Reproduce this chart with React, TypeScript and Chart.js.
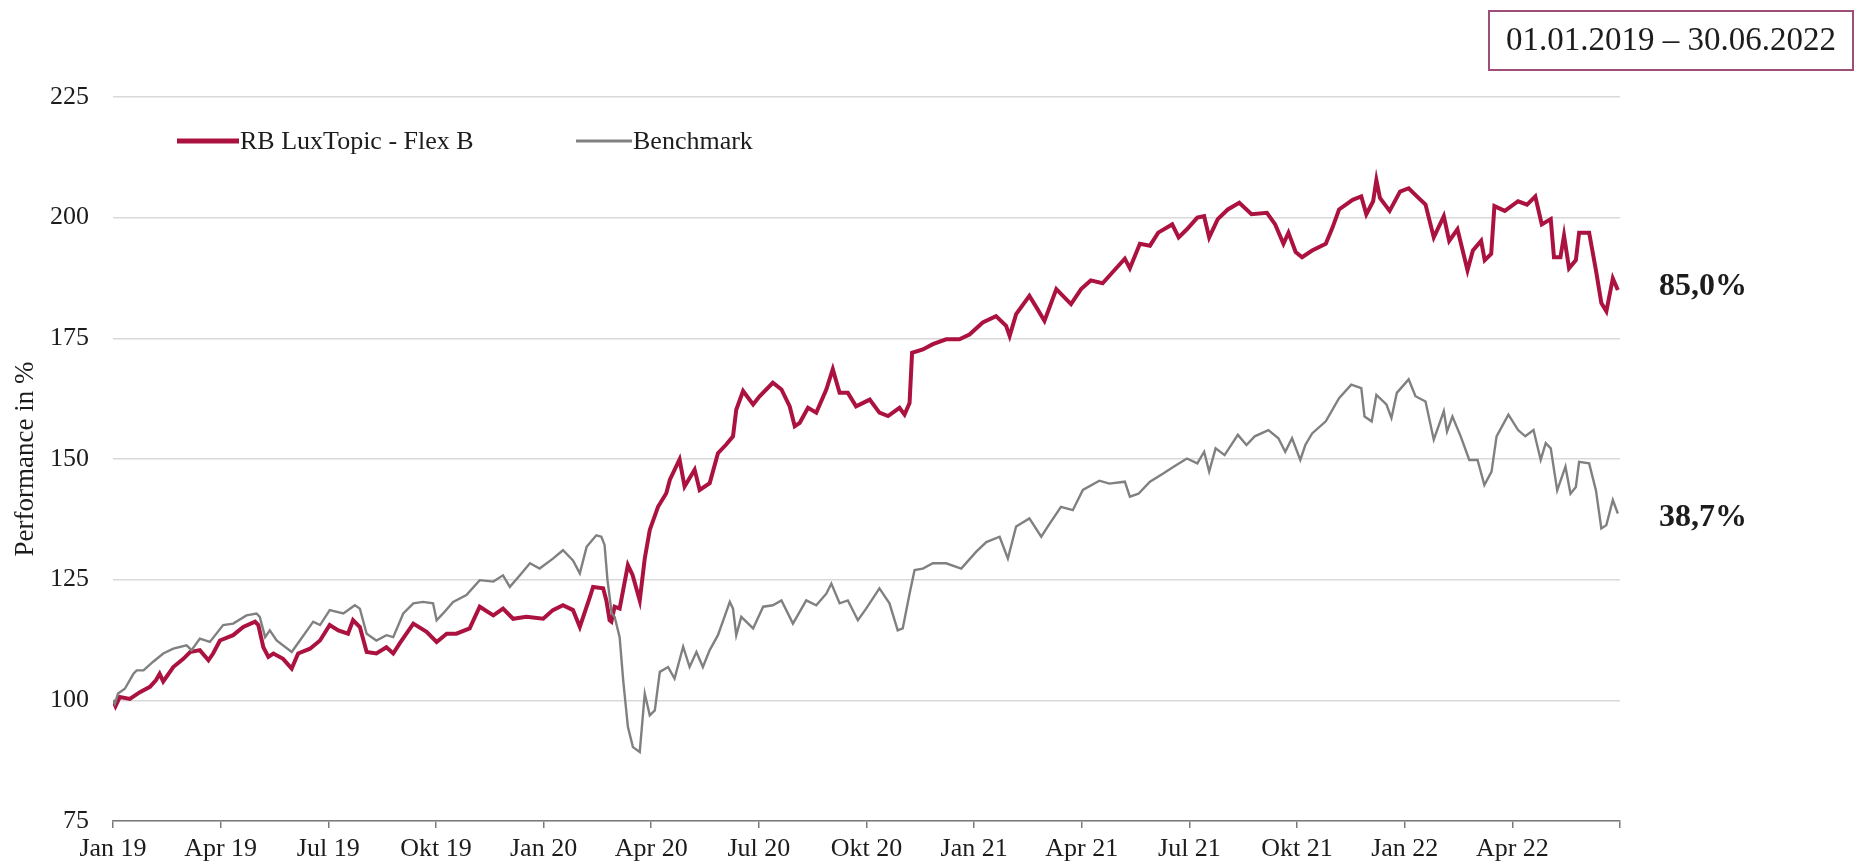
import React, { useEffect, useRef } from "react";
import { Chart, registerables } from "chart.js";

Chart.register(...registerables);

// Quarterly tick labels (months from Jan 2019, every 3 months); last tick (Jul 22) unlabeled
const tickLabels = [
  "Jan 19", "Apr 19", "Jul 19", "Okt 19",
  "Jan 20", "Apr 20", "Jul 20", "Okt 20",
  "Jan 21", "Apr 21", "Jul 21", "Okt 21",
  "Jan 22", "Apr 22", "",
];

const fundLabel = "RB LuxTopic - Flex B";
const benchLabel = "Benchmark";
const fundEndLabel = "85,0%";
const benchEndLabel = "38,7%";
const periodLabel = "01.01.2019 \u2013 30.06.2022";
const yAxisTitle = "Performance in %";

// Fund: x = months since 01.01.2019, y = indexed performance
const fundMonths = [
  0, 0.07, 0.19, 0.47, 0.75, 1.03, 1.2, 1.3, 1.4, 1.68, 1.96, 2.15, 2.42, 2.66, 2.79, 2.98,
  3.35, 3.63, 3.96, 4.05, 4.19, 4.33, 4.47, 4.74, 4.98, 5.16, 5.49, 5.77, 6.04, 6.28, 6.55,
  6.69, 6.88, 7.07, 7.34, 7.62, 7.81, 7.99, 8.37, 8.74, 9.02, 9.3, 9.57, 9.94, 10.22, 10.6,
  10.87, 11.15, 11.52, 11.99, 12.26, 12.54, 12.82, 13.01, 13.29, 13.38, 13.66, 13.75, 13.84,
  13.89, 13.98, 14.12, 14.35, 14.48, 14.68, 14.82, 14.96, 15.19, 15.42, 15.52, 15.79, 15.93,
  16.21, 16.35, 16.63, 16.86, 17.09, 17.28, 17.37, 17.56, 17.84, 18.02, 18.39, 18.63, 18.86,
  19.0, 19.14, 19.37, 19.6, 19.88, 20.06, 20.25, 20.48, 20.71, 21.09, 21.36, 21.6, 21.92,
  22.06, 22.2, 22.27, 22.57, 22.85, 23.22, 23.59, 23.87, 24.24, 24.61, 24.89, 24.99, 25.17,
  25.54, 25.77, 25.96, 26.29, 26.7, 26.98, 27.25, 27.58, 27.87, 28.2, 28.34, 28.62, 28.9,
  29.13, 29.52, 29.7, 29.93, 30.22, 30.41, 30.55, 30.79, 31.07, 31.39, 31.73, 32.16, 32.39,
  32.62, 32.76, 32.96, 33.14, 33.42, 33.8, 33.99, 34.17, 34.55, 34.79, 34.93, 35.12, 35.21,
  35.31, 35.58, 35.87, 36.11, 36.34, 36.58, 36.81, 37.09, 37.24, 37.47, 37.75, 37.9, 38.13,
  38.23, 38.41, 38.5, 38.79, 39.16, 39.41, 39.64, 39.82, 40.07, 40.16, 40.34, 40.44, 40.58,
  40.77, 40.86, 41.14, 41.33, 41.48, 41.62, 41.8, 41.94,
];
const fundValues = [
  100, 98.8, 100.7, 100.3, 101.7, 102.8, 104.2, 105.5, 103.9, 106.9, 108.6, 110, 110.4, 108.3, 109.7, 112.4,
  113.5, 115.2, 116.3, 115.6, 111, 109, 109.7, 108.6, 106.6, 109.7, 110.7, 112.4, 115.6, 114.5, 113.8,
  116.6, 115.2, 110, 109.7, 111, 109.7, 111.8, 115.9, 114.2, 112.1, 113.8, 113.8, 114.9, 119.4, 117.6,
  119, 116.9, 117.3, 116.9, 118.7, 119.7, 118.7, 115.2, 121.4, 123.5, 123.2, 120.7, 116.6,
  116.3, 119.4, 119, 128, 126, 120.7, 129.4, 135.3, 140.1, 142.9, 145.7, 149.9, 144.3,
  147.8, 143.6, 145, 151.2, 153, 154.7, 160.2, 164.1, 161.3, 163, 165.8, 164.4, 160.9,
  156.8, 157.5, 160.6, 159.6, 164.4, 168.6, 163.7, 163.7, 160.9, 162.3, 159.6, 158.9, 160.6,
  159.2, 161.6, 172, 172.7, 173.8, 174.8, 174.8, 175.8, 178.3, 179.6, 177.6, 175.5, 180,
  183.8, 181, 178.6, 185.2, 182.1, 185.2, 187, 186.4, 188.8, 191.5, 189.5, 194.6, 194.2,
  196.9, 198.6, 195.9, 197.6, 200, 200.3, 195.9, 199.7, 201.7, 203.1, 200.7, 201, 198.6,
  194.6, 196.9, 192.9, 191.8, 193.2, 194.6, 198, 201.7, 203.7, 204.4, 200.7, 203.4, 207.8,
  204.1, 201.4, 205.4, 206.1, 204.4, 202.7, 195.9, 200.3, 195.2, 197.6, 189.1, 193.2, 195.2,
  191.2, 192.5, 202.4, 201.4, 203.4, 202.7, 204.4, 198.6, 199.7, 191.8, 191.8, 196.3, 189.5,
  191.2, 196.9, 196.9, 189.1, 182.3, 180.6, 187.4, 185.0,
];

// Benchmark: x = months since 01.01.2019, y = indexed performance
const benchMonths = [
  0, 0.05, 0.14, 0.33, 0.57, 0.66, 0.85, 1.12, 1.4, 1.68, 2.05, 2.19, 2.42, 2.7, 3.07, 3.35,
  3.72, 4.0, 4.09, 4.24, 4.37, 4.56, 4.98, 5.21, 5.58, 5.77, 6.04, 6.42, 6.74, 6.88, 7.07,
  7.34, 7.62, 7.81, 8.09, 8.37, 8.64, 8.92, 9.02, 9.2, 9.48, 9.85, 10.22, 10.6, 10.87, 11.06,
  11.34, 11.62, 11.89, 12.27, 12.54, 12.82, 13.01, 13.2, 13.47, 13.61, 13.7, 13.78, 13.9,
  13.98, 14.12, 14.22, 14.35, 14.49, 14.68, 14.82, 14.96, 15.1, 15.24, 15.47, 15.65, 15.89,
  16.07, 16.26, 16.44, 16.63, 16.86, 17.19, 17.28, 17.37, 17.51, 17.84, 18.12, 18.39, 18.63,
  18.95, 19.32, 19.6, 19.88, 20.02, 20.25, 20.48, 20.76, 20.99, 21.36, 21.64, 21.87, 22.01,
  22.2, 22.34, 22.57, 22.85, 23.22, 23.64, 24.06, 24.34, 24.71, 24.94, 25.17, 25.54, 25.87,
  26.05, 26.42, 26.75, 27.03, 27.49, 27.77, 28.2, 28.34, 28.58, 28.9, 29.27, 29.56, 29.93,
  30.22, 30.41, 30.55, 30.73, 30.98, 31.35, 31.59, 31.82, 32.2, 32.48, 32.67, 32.86, 33.09,
  33.23, 33.42, 33.8, 34.17, 34.51, 34.79, 34.88, 35.08, 35.21, 35.49, 35.63, 35.78, 36.11,
  36.3, 36.58, 36.81, 37.09, 37.18, 37.33, 37.56, 37.8, 38.03, 38.22, 38.42, 38.56, 38.89,
  39.16, 39.36, 39.59, 39.79, 39.93, 40.07, 40.25, 40.48, 40.62, 40.77, 40.86, 41.14, 41.33,
  41.48, 41.62, 41.8, 41.94,
];
const benchValues = [
  100, 99.3, 101.4, 102.4, 105.5, 106.2, 106.2, 108, 109.7, 110.7, 111.4, 110.4, 112.8, 112.1, 115.6, 115.9,
  117.6, 118, 117.3, 113.1, 114.5, 112.4, 110, 112.4, 116.3, 115.6, 118.7, 118, 119.7, 119, 113.8,
  112.4, 113.5, 113.1, 118, 120.1, 120.4, 120.1, 116.6, 118, 120.4, 121.8, 124.9, 124.6, 125.9, 123.5,
  125.9, 128.4, 127.3, 129.4, 131.1, 129, 126.3, 131.8, 134.2, 133.9, 132.2, 125, 118,
  117.3, 113.1, 104.1, 94.5, 90.3, 89.3, 101.4, 96.9, 97.9, 105.9, 106.9, 104.5, 111.1,
  106.9, 110, 106.9, 110.4, 113.5, 120.4, 119, 113.5, 117.3, 114.9, 119.4, 119.7, 120.7,
  115.9, 120.7, 119.7, 122.1, 124.2, 120.1, 120.7, 116.6, 119, 123.2, 120.1, 114.5, 114.9,
  122.1, 127, 127.3, 128.4, 128.4, 127.3, 130.8, 132.8, 133.9, 129.4, 136, 137.7, 133.9,
  136, 140.1, 139.4, 143.6, 145.5, 144.9, 145.3, 142.2, 142.8, 145.3, 147, 148.4, 150.1,
  149.1, 151.5, 147.4, 152.2, 150.8, 155, 152.9, 154.7, 156, 154.3, 151.5, 154.3, 149.8,
  152.9, 155.3, 157.8, 162.6, 165.4, 164.7, 158.8, 157.8, 163.3, 161.3, 158.5, 163.7, 166.5,
  163, 161.9, 154, 159.9, 155.7, 158.8, 154.7, 149.8, 149.8, 144.6, 147.4, 154.7, 159.2,
  156, 154.7, 156, 149.8, 153.3, 152.2, 143.5, 148.4, 142.8, 144.2, 149.4, 149.1, 143.5,
  135.6, 136.3, 141.5, 138.7,
];

const RED = "#ab1240";
const GRAY = "#808080";
const TEXT = "#1c1c1c";
const FONT = "'Liberation Serif', 'Times New Roman', serif";

const overlayPlugin = {
  id: "overlay",
  afterDraw(chart: any) {
    const ctx = chart.ctx;
    const yScale = chart.scales.y;
    ctx.save();
    // Period box
    ctx.strokeStyle = "#9e4f77";
    ctx.lineWidth = 2;
    ctx.strokeRect(1489, 11, 364, 59);
    ctx.fillStyle = TEXT;
    ctx.font = `33px ${FONT}`;
    ctx.textAlign = "center";
    ctx.textBaseline = "middle";
    ctx.fillText(periodLabel, 1671, 41);

    // Legend
    ctx.textAlign = "left";
    ctx.font = `26px ${FONT}`;
    ctx.lineCap = "butt";
    ctx.strokeStyle = RED;
    ctx.lineWidth = 5;
    ctx.beginPath();
    ctx.moveTo(177, 141);
    ctx.lineTo(239, 141);
    ctx.stroke();
    ctx.fillText(fundLabel, 240, 142);
    ctx.strokeStyle = GRAY;
    ctx.lineWidth = 3;
    ctx.beginPath();
    ctx.moveTo(576, 141);
    ctx.lineTo(632, 141);
    ctx.stroke();
    ctx.fillText(benchLabel, 633, 142);

    // End values
    ctx.font = `bold 32px ${FONT}`;
    const fy = yScale.getPixelForValue(fundValues[fundValues.length - 1]);
    const by = yScale.getPixelForValue(benchValues[benchValues.length - 1]);
    ctx.fillText(fundEndLabel, 1659, fy - 3);
    ctx.fillText(benchEndLabel, 1659, by + 4);
    ctx.restore();
  },
};

export default function App() {
  const ref = useRef<HTMLCanvasElement | null>(null);

  useEffect(() => {
    if (!ref.current) return;
    Chart.defaults.font.family = FONT;
    Chart.defaults.color = TEXT;
    const chart = new Chart(ref.current, {
      type: "line",
      data: {
        datasets: [
          {
            label: benchLabel,
            data: benchMonths.map((m, i) => ({ x: m, y: benchValues[i] })),
            borderColor: GRAY,
            borderWidth: 2.4,
            pointRadius: 0,
            tension: 0,
            fill: false,
          },
          {
            label: fundLabel,
            data: fundMonths.map((m, i) => ({ x: m, y: fundValues[i] })),
            borderColor: RED,
            borderWidth: 4,
            pointRadius: 0,
            tension: 0,
            fill: false,
          },
        ],
      },
      options: {
        responsive: false,
        animation: false,
        layout: { padding: { top: 97, right: 241, bottom: 0, left: 0 } },
        plugins: {
          legend: { display: false },
          tooltip: { enabled: false },
        },
        scales: {
          x: {
            type: "linear",
            min: 0,
            max: 42,
            afterBuildTicks: (s: any) => {
              s.ticks = tickLabels.map((_, i) => ({ value: i * 3 }));
            },
            afterFit: (s: any) => {
              s.height = 46;
            },
            ticks: {
              autoSkip: false,
              maxRotation: 0,
              minRotation: 0,
              padding: 6,
              color: TEXT,
              font: { size: 26 },
              callback: (v: any) => tickLabels[Math.round(Number(v) / 3)] ?? "",
            },
            grid: {
              drawOnChartArea: false,
              drawTicks: true,
              tickLength: 7,
              color: "#7a7a7a",
              lineWidth: 1.5,
            },
            border: { display: true, color: "#7a7a7a", width: 1.5 },
          },
          y: {
            min: 75,
            max: 225,
            afterFit: (s: any) => {
              s.width = 113;
            },
            ticks: {
              stepSize: 25,
              padding: 24,
              color: TEXT,
              font: { size: 26 },
            },
            grid: { color: "#d9d9d9", lineWidth: 1.5, drawTicks: false },
            border: { display: false },
            title: {
              display: true,
              text: yAxisTitle,
              color: TEXT,
              font: { size: 27 },
              padding: { top: 10, bottom: 0 },
            },
          },
        },
      },
      plugins: [overlayPlugin],
    } as any);
    return () => chart.destroy();
  }, []);

  return (
    <div style={{ position: "fixed", left: 0, top: 0, width: 1861, height: 867, background: "#fff" }}>
      <canvas ref={ref} width={1861} height={867} style={{ width: 1861, height: 867, display: "block" }} />
    </div>
  );
}
